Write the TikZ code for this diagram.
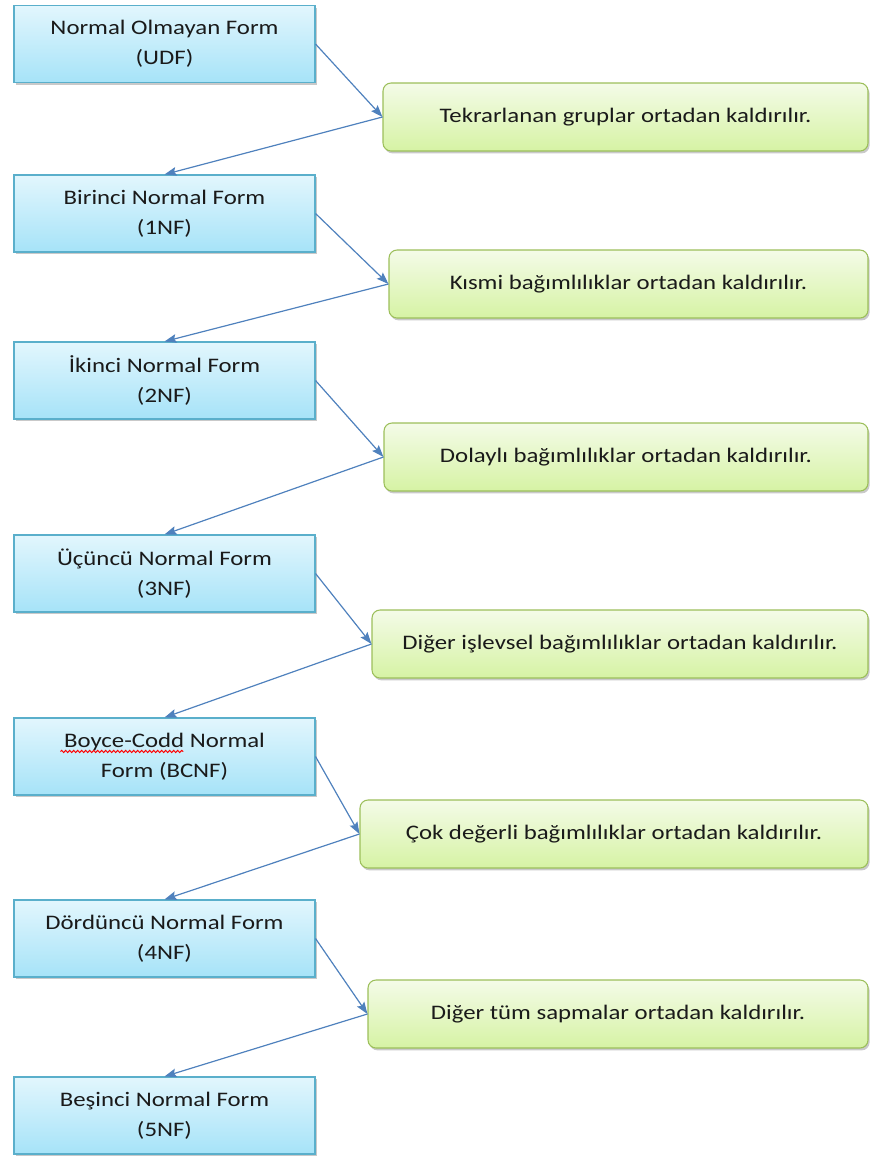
\documentclass[tikz,border=0pt]{standalone}
\usepackage{fontspec}
\setmainfont{Carlito}[FakeStretch=1.2]
\usetikzlibrary{shadows,arrows.meta,decorations.pathmorphing,calc}
\definecolor{bluetop}{HTML}{E2F6FD}
\definecolor{bluebot}{HTML}{A6E3F8}
\definecolor{bluebord}{HTML}{5AAFCB}
\definecolor{greentop}{HTML}{F4FBE8}
\definecolor{greenbot}{HTML}{D6F3A4}
\definecolor{greenbord}{HTML}{9CBF5A}
\definecolor{arrowcol}{HTML}{4F81BD}
\definecolor{txt}{HTML}{1A1A1A}
\begin{document}
\begin{tikzpicture}[x=0.75pt,y=-0.75pt,
  nfbox/.style={draw=bluebord, line width=0.8pt, top color=bluetop, bottom color=bluebot,
    minimum width=225.75pt, minimum height=57.75pt, align=center, text=txt,
    font=\fontsize{15.5}{22.5}\selectfont,
    drop shadow={shadow xshift=1.2pt, shadow yshift=-1.5pt, opacity=0.3, fill=black!70}},
  stepbox/.style={draw=greenbord, line width=0.8pt, top color=greentop, bottom color=greenbot,
    rounded corners=6pt, minimum height=51pt, align=center, text=txt,
    font=\fontsize{15.5}{18}\selectfont,
    drop shadow={shadow xshift=1.2pt, shadow yshift=-1.8pt, opacity=0.3, fill=black!70}},
  conn/.style={draw=arrowcol, line width=0.9pt, -{Stealth[length=9pt,width=6.5pt,inset=1.5pt]}},
  spell/.style={draw=red, line width=0.75pt, decorate, decoration={snake, amplitude=0.8pt, segment length=3pt}}
]
\useasboundingbox (0,0) rectangle (870,1158);

\node[nfbox] (udf) at (164.5,44) {Normal Olmayan Form\\(UDF)};
\node[nfbox] (nf1) at (164.5,213.5) {Birinci Normal Form\\(1NF)};
\node[nfbox] (nf2) at (164.5,380.5) {İkinci Normal Form\\(2NF)};
\node[nfbox] (nf3) at (164.5,573.5) {Üçüncü Normal Form\\(3NF)};
\node[nfbox] (bcnf) at (164.5,756.5) {Boyce-Codd Normal\\Form (BCNF)};
\node[nfbox] (nf4) at (164.5,938.5) {Dördüncü Normal Form\\(4NF)};
\node[nfbox] (nf5) at (164.5,1115.5) {Beşinci Normal Form\\(5NF)};

\draw[spell] ($(bcnf.north west)+(47,34)$) -- ($(bcnf.north west)+(170,34)$);

\node[stepbox, minimum width=363.75pt] (g1) at (625.5,117) {Tekrarlanan gruplar ortadan kaldırılır.};
\node[stepbox, minimum width=359.25pt] (g2) at (628.5,284) {Kısmi bağımlılıklar ortadan kaldırılır.};
\node[stepbox, minimum width=363pt] (g3) at (626,457) {Dolaylı bağımlılıklar ortadan kaldırılır.};
\node[stepbox, minimum width=372pt] (g4) at (620,644) {Diğer işlevsel bağımlılıklar ortadan kaldırılır.};
\node[stepbox, minimum width=381pt] (g5) at (614,834) {Çok değerli bağımlılıklar ortadan kaldırılır.};
\node[stepbox, minimum width=375pt] (g6) at (618,1014) {Diğer tüm sapmalar ortadan kaldırılır.};

\draw[conn] (udf.east) -- (g1.west);
\draw[conn] (g1.west) -- (nf1.north);
\draw[conn] (nf1.east) -- (g2.west);
\draw[conn] (g2.west) -- (nf2.north);
\draw[conn] (nf2.east) -- (g3.west);
\draw[conn] (g3.west) -- (nf3.north);
\draw[conn] (nf3.east) -- (g4.west);
\draw[conn] (g4.west) -- (bcnf.north);
\draw[conn] (bcnf.east) -- (g5.west);
\draw[conn] (g5.west) -- (nf4.north);
\draw[conn] (nf4.east) -- (g6.west);
\draw[conn] (g6.west) -- (nf5.north);
\end{tikzpicture}
\end{document}
